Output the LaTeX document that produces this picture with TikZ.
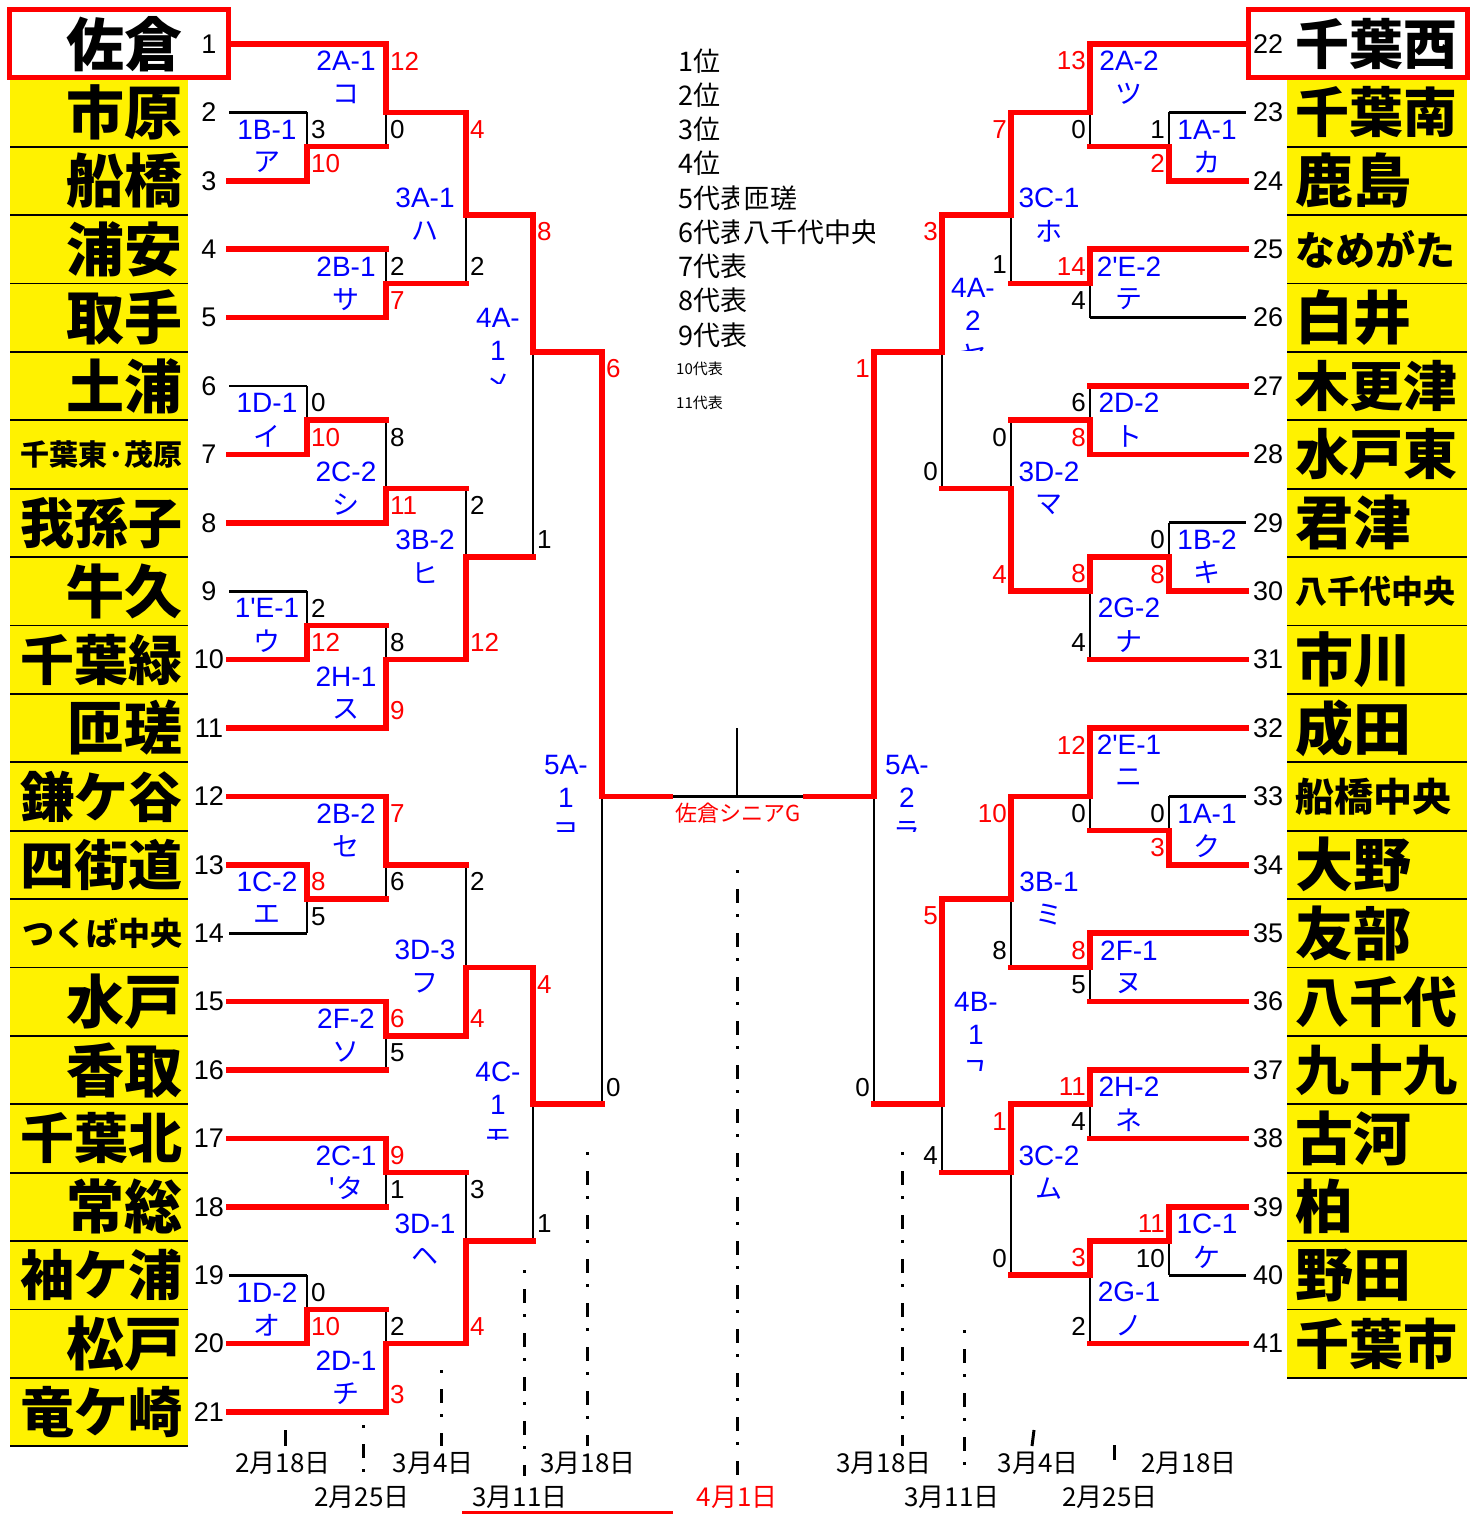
\documentclass[tikz,border=0pt]{standalone}
\usepackage{fontspec}
\setmainfont{Liberation Sans}
\newfontfamily\lat{Liberation Sans}
\newfontfamily\jp{Noto Sans CJK JP}
\pgfdeclarelayer{bg}
\pgfdeclarelayer{blk}
\pgfsetlayers{bg,blk,main}
\newcommand\mT[6]{%
 \coordinate (#1t) at (#2,{gy(#3)});
 \coordinate (#1b) at (#2,{gy(#4)});
 \coordinate (#1o) at (#2,{gy(#5)});
 \coordinate (#1n) at (#6,{gy(#5)});
 \begin{pgfonlayer}{blk}\draw[bl] (#1o) -- (#1b);\end{pgfonlayer}
 \draw[rl] (#1t) -- (#1o) -- (#1n);}
\newcommand\mB[6]{%
 \coordinate (#1t) at (#2,{gy(#3)});
 \coordinate (#1b) at (#2,{gy(#4)});
 \coordinate (#1o) at (#2,{gy(#5)});
 \coordinate (#1n) at (#6,{gy(#5)});
 \begin{pgfonlayer}{blk}\draw[bl] (#1o) -- (#1t);\end{pgfonlayer}
 \draw[rl] (#1b) -- (#1o) -- (#1n);}
% team line: name, x1, x2, k
\newcommand\tlR[4]{\coordinate (#1a) at (#2,{gy(#4)}); \coordinate (#1z) at (#3,{gy(#4)}); \draw[rl] (#1a) -- (#1z);}
\newcommand\tlK[4]{\coordinate (#1a) at (#2,{gy(#4)}); \coordinate (#1z) at (#3,{gy(#4)}); \begin{pgfonlayer}{blk}\draw[bl] (#1a) -- (#1z);\end{pgfonlayer}}
\newcommand\tL[3]{\node[tname,anchor=east,font=\jp\bfseries\fontsize{#2}{#2}\selectfont] (nl#1) at (183,{gy(2*(#1-1))}) {#3};}
\newcommand\tR[3]{\node[tname,anchor=west,font=\jp\bfseries\fontsize{#2}{#2}\selectfont] (nr#1) at (1295,{gy(2*(#1-22))}) {#3};}
% labels: name, x, yexpr, line1, line2
\newcommand\lab[5]{\node[lbl] (#1a) at (#2,{#3}) {#4}; \node[lblj] (#1b) at (#2,{#3+33}) {#5};}
% 3-line clipped labels: name, x, y1, l1, l2, l3, clipy
\newcommand\labc[7]{\node[lbl] (#1a) at (#2,#3) {#4}; \node[lbl] (#1b) at (#2,#3+33) {#5};
 \begin{scope}\clip (#2-25,#3+45) rectangle (#2+25,#7); \node[lblj] (#1c) at (#2,#3+67) {#6};\end{scope}}
% scores: name, x, yexpr, color, text
\newcommand\sL[5]{\node[sc,anchor=west,text=#4] (#1) at (#2+4,{#3}) {#5};}
\newcommand\sR[5]{\node[sc,anchor=east,text=#4] (#1) at (#2-4,{#3}) {#5};}
\begin{document}
\begin{tikzpicture}[x=1pt,y=-1pt,
  declare function={gy(\k)=44+\k*34.2;},
  rl/.style={draw=red,line width=5.5pt,line cap=rect,line join=miter},
  bl/.style={draw=black,line width=2.8pt},
  seed/.style={inner sep=0,font=\lat\fontsize{27}{27}\selectfont},
  sc/.style={inner sep=0,font=\lat\fontsize{26}{26}\selectfont},
  lbl/.style={inner sep=0,text=blue,font=\lat\fontsize{28}{28}\selectfont},
  lblj/.style={inner sep=0,text=blue,font=\jp\fontsize{27}{27}\selectfont},
  tname/.style={inner sep=0},
  leg/.style={inner sep=0,anchor=west,font=\jp\fontsize{27}{27}\selectfont},
  legs/.style={inner sep=0,anchor=west,font=\jp\fontsize{15}{15}\selectfont},
  date/.style={inner sep=0,font=\jp\fontsize{26}{26}\selectfont},
  dd/.style={line width=3pt,dash pattern=on 3pt off 16pt on 14pt off 11pt},
  tick/.style={line width=3pt},
]
\useasboundingbox (0,0) rectangle (1478,1515);
\begin{pgfonlayer}{bg}
\fill[white] (0,0) rectangle (1478,1515);
\end{pgfonlayer}

% yellow name columns
\fill[yellow] (10,{gy(1)}) rectangle (188,{gy(41)});
\fill[yellow] (1287,{gy(1)}) rectangle (1467,{gy(39)});
\foreach \k in {1,3,...,41} \draw[line width=1.8pt] (10,{gy(\k)}) -- (188,{gy(\k)});
\foreach \k in {1,3,...,39} \draw[line width=1.8pt] (1287,{gy(\k)}) -- (1467,{gy(\k)});
% red boxes for the two top seeds
\draw[red,line width=5pt,fill=white] (9.5,9.5) rectangle (228.5,77.5);
\draw[red,line width=5pt,fill=white] (1248.5,9.5) rectangle (1467.5,77.5);

% team names
\tL{1}{58}{佐倉}
\tL{2}{58}{市原}
\tL{3}{58}{船橋}
\tL{4}{58}{浦安}
\tL{5}{58}{取手}
\tL{6}{58}{土浦}
\tL{7}{29}{千葉東·茂原}
\tL{8}{54}{我孫子}
\tL{9}{58}{牛久}
\tL{10}{54}{千葉緑}
\tL{11}{58}{匝瑳}
\tL{12}{54}{鎌ケ谷}
\tL{13}{54}{四街道}
\tL{14}{32}{つくば中央}
\tL{15}{58}{水戸}
\tL{16}{58}{香取}
\tL{17}{54}{千葉北}
\tL{18}{58}{常総}
\tL{19}{54}{袖ケ浦}
\tL{20}{58}{松戸}
\tL{21}{54}{竜ケ崎}
\tR{22}{54}{千葉西}
\tR{23}{54}{千葉南}
\tR{24}{58}{鹿島}
\tR{25}{40}{なめがた}
\tR{26}{58}{白井}
\tR{27}{54}{木更津}
\tR{28}{54}{水戸東}
\tR{29}{58}{君津}
\tR{30}{32}{八千代中央}
\tR{31}{58}{市川}
\tR{32}{58}{成田}
\tR{33}{39}{船橋中央}
\tR{34}{58}{大野}
\tR{35}{58}{友部}
\tR{36}{54}{八千代}
\tR{37}{54}{九十九}
\tR{38}{58}{古河}
\tR{39}{58}{柏}
\tR{40}{58}{野田}
\tR{41}{54}{千葉市}

% seed numbers
\foreach \i in {1,...,21} \node[seed] (sl\i) at (209,{gy(2*(\i-1))}) {\i};
\foreach \i in {22,...,41} \node[seed] (sr\i) at (1268,{gy(2*(\i-22))}) {\i};

% team lines, left
\tlR{a1}{231}{386}{0}
\tlK{a2}{229}{307}{2}
\tlR{a3}{229}{307}{4}
\tlR{a4}{229}{386}{6}
\tlR{a5}{229}{386}{8}
\tlK{a6}{229}{307}{10}
\tlR{a7}{229}{307}{12}
\tlR{a8}{229}{386}{14}
\tlK{a9}{229}{307}{16}
\tlR{a10}{229}{307}{18}
\tlR{a11}{229}{386}{20}
\tlR{a12}{229}{386}{22}
\tlR{a13}{229}{307}{24}
\tlK{a14}{229}{307}{26}
\tlR{a15}{229}{386}{28}
\tlR{a16}{229}{386}{30}
\tlR{a17}{229}{386}{32}
\tlR{a18}{229}{386}{34}
\tlK{a19}{229}{307}{36}
\tlR{a20}{229}{307}{38}
\tlR{a21}{229}{386}{40}
% team lines, right
\tlR{b22}{1090}{1246}{0}
\tlK{b23}{1169}{1246}{2}
\tlR{b24}{1169}{1246}{4}
\tlR{b25}{1090}{1246}{6}
\tlK{b26}{1090}{1246}{8}
\tlR{b27}{1090}{1246}{10}
\tlR{b28}{1090}{1246}{12}
\tlK{b29}{1169}{1246}{14}
\tlR{b30}{1169}{1246}{16}
\tlR{b31}{1090}{1246}{18}
\tlR{b32}{1090}{1246}{20}
\tlK{b33}{1169}{1246}{22}
\tlR{b34}{1169}{1246}{24}
\tlR{b35}{1090}{1246}{26}
\tlR{b36}{1090}{1246}{28}
\tlR{b37}{1090}{1246}{30}
\tlR{b38}{1090}{1246}{32}
\tlR{b39}{1169}{1246}{34}
\tlK{b40}{1169}{1246}{36}
\tlR{b41}{1090}{1246}{38}

% matches, left
\mB{L1}{307}{2}{4}{3}{386}
\mT{L2}{386}{0}{3}{2}{466}
\mB{L3}{386}{6}{8}{7}{466}
\mT{L4}{466}{2}{7}{5}{533}
\mB{L5}{307}{10}{12}{11}{386}
\mB{L6}{386}{11}{14}{13}{466}
\mB{L7}{307}{16}{18}{17}{386}
\mB{L8}{386}{17}{20}{18}{466}
\mB{L9}{466}{13}{18}{15}{533}
\mT{L10}{533}{5}{15}{9}{602}
\mT{L11}{307}{24}{26}{25}{386}
\mT{L12}{386}{22}{25}{24}{466}
\mT{L13}{386}{28}{30}{29}{466}
\mB{L14}{466}{24}{29}{27}{533}
\mT{L15}{386}{32}{34}{33}{466}
\mB{L16}{307}{36}{38}{37}{386}
\mB{L17}{386}{37}{40}{38}{466}
\mB{L18}{466}{33}{38}{35}{533}
\mT{L19}{533}{27}{35}{31}{602}
\mT{L20}{602}{9}{31}{22}{670}
% matches, right
\mB{R1}{1169}{2}{4}{3}{1090}
\mT{R2}{1090}{0}{3}{2}{1011}
\mT{R3}{1090}{6}{8}{7}{1011}
\mT{R4}{1011}{2}{7}{5}{942}
\mB{R5}{1090}{10}{12}{11}{1011}
\mB{R6}{1169}{14}{16}{15}{1090}
\mT{R7}{1090}{15}{18}{16}{1011}
\mB{R8}{1011}{11}{16}{13}{942}
\mT{R9}{942}{5}{13}{9}{874}
\mB{R10}{1169}{22}{24}{23}{1090}
\mT{R11}{1090}{20}{23}{22}{1011}
\mT{R12}{1090}{26}{28}{27}{1011}
\mT{R13}{1011}{22}{27}{25}{942}
\mT{R14}{1090}{30}{32}{31}{1011}
\mT{R15}{1169}{34}{36}{35}{1090}
\mT{R16}{1090}{35}{38}{36}{1011}
\mT{R17}{1011}{31}{36}{33}{942}
\mT{R18}{942}{25}{33}{31}{874}
\mT{R19}{874}{9}{31}{22}{806}

% final
\coordinate (stem) at (737,728);
\coordinate (fin) at (737,{gy(22)});
\begin{pgfonlayer}{blk}
\draw[bl] (L20n) -- (R19n);
\draw[bl] (stem) -- (fin);
\end{pgfonlayer}
\node[inner sep=0,text=red,font=\jp\fontsize{22}{22}\selectfont] (champ) at (738,813) {佐倉シニアG};

% scores left
\sL{c1}{307}{gy(2)+17}{black}{3}   \sL{c2}{307}{gy(4)-17}{red}{10}
\sL{c3}{386}{gy(0)+17}{red}{12}    \sL{c4}{386}{gy(3)-17}{black}{0}
\sL{c5}{386}{gy(6)+17}{black}{2}   \sL{c6}{386}{gy(8)-17}{red}{7}
\sL{c7}{466}{gy(2)+17}{red}{4}     \sL{c8}{466}{gy(7)-17}{black}{2}
\sL{c9}{307}{gy(10)+17}{black}{0}  \sL{c10}{307}{gy(12)-17}{red}{10}
\sL{c11}{386}{gy(11)+17}{black}{8} \sL{c12}{386}{gy(14)-17}{red}{11}
\sL{c13}{307}{gy(16)+17}{black}{2} \sL{c14}{307}{gy(18)-17}{red}{12}
\sL{c15}{386}{gy(17)+17}{black}{8} \sL{c16}{386}{gy(20)-17}{red}{9}
\sL{c17}{466}{gy(13)+17}{black}{2} \sL{c18}{466}{gy(18)-17}{red}{12}
\sL{c19}{533}{gy(5)+17}{red}{8}    \sL{c20}{533}{gy(15)-17}{black}{1}
\sL{c21}{307}{gy(24)+17}{red}{8}   \sL{c22}{307}{gy(26)-17}{black}{5}
\sL{c23}{386}{gy(22)+17}{red}{7}   \sL{c24}{386}{gy(25)-17}{black}{6}
\sL{c25}{386}{gy(28)+17}{red}{6}   \sL{c26}{386}{gy(30)-17}{black}{5}
\sL{c27}{466}{gy(24)+17}{black}{2} \sL{c28}{466}{gy(29)-17}{red}{4}
\sL{c29}{386}{gy(32)+17}{red}{9}   \sL{c30}{386}{gy(34)-17}{black}{1}
\sL{c31}{307}{gy(36)+17}{black}{0} \sL{c32}{307}{gy(38)-17}{red}{10}
\sL{c33}{386}{gy(37)+17}{black}{2} \sL{c34}{386}{gy(40)-17}{red}{3}
\sL{c35}{466}{gy(33)+17}{black}{3} \sL{c36}{466}{gy(38)-17}{red}{4}
\sL{c37}{533}{gy(27)+17}{red}{4}   \sL{c38}{533}{gy(35)-17}{black}{1}
\sL{c39}{602}{gy(9)+17}{red}{6}    \sL{c40}{602}{gy(31)-17}{black}{0}
% scores right
\sR{d1}{1169}{gy(2)+17}{black}{1}   \sR{d2}{1169}{gy(4)-17}{red}{2}
\sR{d3}{1090}{gy(0)+17}{red}{13}    \sR{d4}{1090}{gy(3)-17}{black}{0}
\sR{d5}{1090}{gy(6)+17}{red}{14}    \sR{d6}{1090}{gy(8)-17}{black}{4}
\sR{d7}{1011}{gy(2)+17}{red}{7}     \sR{d8}{1011}{gy(7)-19}{black}{1}
\sR{d9}{1090}{gy(10)+17}{black}{6}  \sR{d10}{1090}{gy(12)-17}{red}{8}
\sR{d11}{1169}{gy(14)+17}{black}{0} \sR{d12}{1169}{gy(16)-17}{red}{8}
\sR{d13}{1090}{gy(15)+17}{red}{8}   \sR{d14}{1090}{gy(18)-17}{black}{4}
\sR{d15}{1011}{gy(11)+17}{black}{0} \sR{d16}{1011}{gy(16)-17}{red}{4}
\sR{d17}{942}{gy(5)+17}{red}{3}     \sR{d18}{942}{gy(13)-17}{black}{0}
\sR{d19}{1169}{gy(22)+17}{black}{0} \sR{d20}{1169}{gy(24)-17}{red}{3}
\sR{d21}{1090}{gy(20)+17}{red}{12}  \sR{d22}{1090}{gy(23)-17}{black}{0}
\sR{d23}{1090}{gy(26)+17}{red}{8}   \sR{d24}{1090}{gy(28)-17}{black}{5}
\sR{d25}{1011}{gy(22)+17}{red}{10}  \sR{d26}{1011}{gy(27)-17}{black}{8}
\sR{d27}{1090}{gy(30)+17}{red}{11}  \sR{d28}{1090}{gy(32)-17}{black}{4}
\sR{d29}{1169}{gy(34)+17}{red}{11}  \sR{d30}{1169}{gy(36)-17}{black}{10}
\sR{d31}{1090}{gy(35)+17}{red}{3}   \sR{d32}{1090}{gy(38)-17}{black}{2}
\sR{d33}{1011}{gy(31)+17}{red}{1}   \sR{d34}{1011}{gy(36)-17}{black}{0}
\sR{d35}{942}{gy(25)+17}{red}{5}    \sR{d36}{942}{gy(33)-17}{black}{4}
\sR{d37}{874}{gy(9)+17}{red}{1}     \sR{d38}{874}{gy(31)-17}{black}{0}

% match labels, left
\lab{e1}{267}{gy(2.5)}{1B-1}{ア}
\lab{e2}{346}{gy(0.5)}{2A-1}{コ}
\lab{e3}{425}{gy(4.5)}{3A-1}{ハ}
\lab{e4}{346}{gy(6.5)}{2B-1}{サ}
\lab{e5}{267}{gy(10.5)}{1D-1}{イ}
\lab{e6}{346}{gy(12.5)}{2C-2}{シ}
\lab{e7}{425}{gy(14.5)}{3B-2}{ヒ}
\lab{e8}{267}{gy(16.5)}{1'E-1}{ウ}
\lab{e9}{346}{gy(18.5)}{2H-1}{ス}
\lab{e10}{346}{gy(22.5)}{2B-2}{セ}
\lab{e11}{267}{gy(24.5)}{1C-2}{エ}
\lab{e12}{425}{gy(26.5)}{3D-3}{フ}
\lab{e13}{346}{gy(28.5)}{2F-2}{ソ}
\lab{e14}{346}{gy(32.5)}{2C-1}{'タ}
\lab{e15}{425}{gy(34.5)}{3D-1}{ヘ}
\lab{e16}{267}{gy(36.5)}{1D-2}{オ}
\lab{e17}{346}{gy(38.5)}{2D-1}{チ}
\labc{e18}{498}{318}{4A-}{1}{メ}{383}
\labc{e19}{566}{765}{5A-}{1}{ヨ}{831}
\labc{e20}{498}{1072}{4C-}{1}{モ}{1139}
% match labels, right
\lab{f1}{1129}{gy(0.5)}{2A-2}{ツ}
\lab{f2}{1207}{gy(2.5)}{1A-1}{カ}
\lab{f3}{1049}{gy(4.5)}{3C-1}{ホ}
\lab{f4}{1129}{gy(6.5)}{2'E-2}{テ}
\lab{f5}{1129}{gy(10.5)}{2D-2}{ト}
\lab{f6}{1049}{gy(12.5)}{3D-2}{マ}
\lab{f7}{1207}{gy(14.5)}{1B-2}{キ}
\lab{f8}{1129}{gy(16.5)}{2G-2}{ナ}
\lab{f9}{1129}{gy(20.5)}{2'E-1}{ニ}
\lab{f10}{1207}{gy(22.5)}{1A-1}{ク}
\lab{f11}{1049}{gy(24.5)}{3B-1}{ミ}
\lab{f12}{1129}{gy(26.5)}{2F-1}{ヌ}
\lab{f13}{1129}{gy(30.5)}{2H-2}{ネ}
\lab{f14}{1049}{gy(32.5)}{3C-2}{ム}
\lab{f15}{1207}{gy(34.5)}{1C-1}{ケ}
\lab{f16}{1129}{gy(36.5)}{2G-1}{ノ}
\labc{f17}{973}{288}{4A-}{2}{ヤ}{350}
\labc{f18}{907}{765}{5A-}{2}{ラ}{831}
\labc{f19}{976}{1002}{4B-}{1}{ユ}{1070}

% legend
\node[leg] (g1) at (678,61) {1位};
\node[leg] (g2) at (678,95) {2位};
\node[leg] (g3) at (678,129) {3位};
\node[leg] (g4) at (678,163) {4位};
\begin{scope}\clip (670,180) rectangle (738,216); \node[leg] (g5) at (678,198) {5代表};\end{scope}
\node[leg] (g5b) at (743,198) {匝瑳};
\begin{scope}\clip (670,214) rectangle (738,250); \node[leg] (g6) at (678,232) {6代表};\end{scope}
\begin{scope}\clip (741,214) rectangle (874,250); \node[leg] (g6b) at (743,232) {八千代中央};\end{scope}
\node[leg] (g7) at (678,266) {7代表};
\node[leg] (g8) at (678,300) {8代表};
\node[leg] (g9) at (678,335) {9代表};
\node[legs] (g10) at (676,369) {10代表};
\node[legs] (g11) at (676,403) {11代表};

% date guides
\draw[tick] (285,1430) -- (285,1446);
\draw[dd] (363,1425) -- (363,1476);
\draw[dd] (441,1370) -- (441,1446);
\draw[dd] (524,1270) -- (524,1476);
\draw[dd] (587,1152) -- (587,1446);
\draw[dd] (737,870) -- (737,1476);
\draw[dd] (902,1152) -- (902,1446);
\draw[dd] (964,1330) -- (964,1476);
\draw[tick] (1034,1430) -- (1032,1446);
\draw[tick] (1114,1445) -- (1114,1460);
\node[date] (h1) at (283,1463) {2月18日};
\node[date] (h2) at (362,1497) {2月25日};
\node[date] (h3) at (433,1463) {3月4日};
\node[date] (h4) at (520,1497) {3月11日};
\node[date] (h5) at (588,1463) {3月18日};
\node[date,text=red] (h6) at (737,1497) {4月1日};
\node[date] (h7) at (884,1463) {3月18日};
\node[date] (h8) at (952,1497) {3月11日};
\node[date] (h9) at (1038,1463) {3月4日};
\node[date] (h10) at (1110,1497) {2月25日};
\node[date] (h11) at (1189,1463) {2月18日};
\draw[red,line width=3pt] (462,1512) -- (673,1512);
\end{tikzpicture}
\end{document}
